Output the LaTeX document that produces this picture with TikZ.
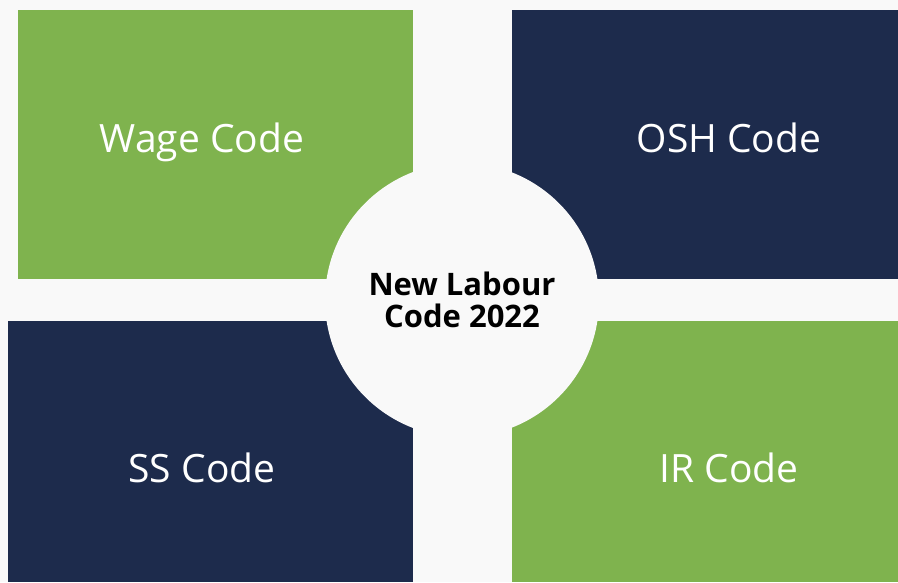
\documentclass[tikz,border=0pt]{standalone}
\usepackage{fontspec}
\setmainfont{Open Sans}
\usetikzlibrary{positioning}

\definecolor{leaf}{RGB}{127,179,78}
\definecolor{navy}{RGB}{29,43,76}
\definecolor{paper}{RGB}{249,249,249}

\tikzset{
  codelabel/.style={white, anchor=base, font=\fontsize{39}{41}\selectfont},
  hub/.style={circle, fill=paper, minimum size=274pt, inner sep=0pt, align=center,
    font=\bfseries\fontsize{31}{32}\selectfont}
}

\begin{document}
\begin{tikzpicture}[x=1pt, y=-1pt]
	\useasboundingbox (0,0) rectangle (898,582);
	\fill[paper] (0,0) rectangle (898,582);

	% the four code blocks
	\fill[leaf] (18,10) rectangle (413,279);
	\fill[navy] (512,10) rectangle (898,279);
	\fill[navy] (8,321) rectangle (413,582);
	\fill[leaf] (512,321) rectangle (898,582);

	\node[codelabel] (wage) at (202,152) {Wage Code};
	\node[codelabel] (osh) at (729,152) {OSH Code};
	\node[codelabel] (ss) at (202,482) {SS Code};
	\node[codelabel] (ir) at (729,482) {IR Code};

	% centre disc
	\node[hub] (labour) at (462,300) {New Labour\\Code 2022};
\end{tikzpicture}
\end{document}
